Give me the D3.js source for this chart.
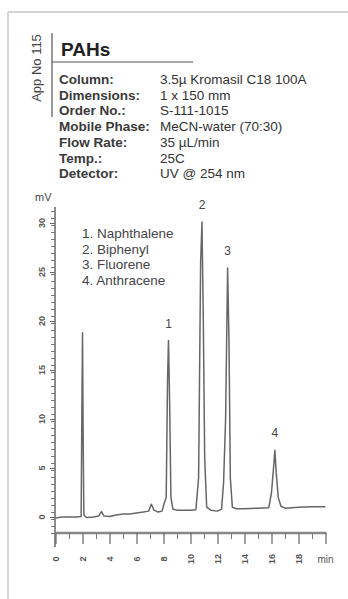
<!DOCTYPE html>
<html>
<head>
<meta charset="utf-8">
<script src="https://cdn.jsdelivr.net/npm/d3@7"></script>
<style>
  body { margin: 0; background: #fff; }
  svg { display: block; font-family: "Liberation Sans", Arial, sans-serif; }
</style>
</head>
<body>
<div id="chart"></div>
<script>
// header info
const appNo = "App No 115";
const title = "PAHs";
const infoLabels = ["Column:", "Dimensions:", "Order No.:", "Mobile Phase:", "Flow Rate:", "Temp.:", "Detector:"];
const infoValues = ["3.5\u00b5 Kromasil C18 100A", "1 x 150 mm", "S-111-1015", "MeCN-water (70:30)", "35 \u00b5L/min", "25C", "UV @ 254 nm"];

// peaks
const peakNames = ["1. Naphthalene", "2. Biphenyl", "3. Fluorene", "4. Anthracene"];
const peakTimes = [8.37, 10.85, 12.75, 16.25];
const peakHeights = [18.0, 30.1, 25.4, 6.8];

// axes
const xTicks = [0, 2, 4, 6, 8, 10, 12, 14, 16, 18];
const yTicks = [0, 5, 10, 15, 20, 25, 30];

// chromatogram trace (min, mV)
const traceTime = [0.0, 0.5, 1.0, 1.5, 1.9, 1.95, 2.0, 2.05, 2.1, 2.3, 2.8, 3.2, 3.4, 3.6, 4.0, 4.5, 5.0, 5.5, 6.0, 6.5,
  6.9, 7.1, 7.3, 7.6, 7.9, 8.05, 8.2, 8.3, 8.37, 8.45, 8.55, 8.7, 9.0, 10.0, 10.4, 10.6, 10.75, 10.85, 10.95, 11.05,
  11.2, 11.5, 12.0, 12.3, 12.45, 12.6, 12.75, 12.85, 12.95, 13.1, 13.4, 14.0, 15.0, 15.8, 16.0, 16.15, 16.25, 16.35, 16.5, 16.7,
  17.0, 18.0, 19.0, 20.0];
const traceMv = [-0.1, 0.0, 0.0, 0.0, 0.05, 10, 18.8, 8, 0.2, -0.05, 0.0, 0.1, 0.55, 0.1, 0.05, 0.2, 0.3, 0.3, 0.4, 0.5,
  0.6, 1.3, 0.7, 0.5, 0.6, 1.4, 2.0, 14, 18.0, 12, 2, 0.8, 0.7, 0.7, 0.75, 4, 26, 30.1, 20, 6,
  1, 0.7, 0.6, 0.8, 3.5, 10, 25.4, 18, 4, 1, 0.85, 0.85, 0.9, 0.95, 2.5, 5, 6.8, 4.5, 2, 1.1,
  0.9, 1.0, 1.05, 1.05];

const W = 348, H = 599;
const svg = d3.select("#chart").append("svg").attr("width", W).attr("height", H);

// page frame
svg.append("line").attr("x1", 8).attr("x2", W).attr("y1", 12).attr("y2", 12)
  .attr("stroke", "#d4d4d4").attr("stroke-width", 2);
svg.append("line").attr("x1", 8).attr("x2", 8).attr("y1", 12).attr("y2", H)
  .attr("stroke", "#d4d4d4").attr("stroke-width", 2);

// header
svg.append("text").attr("transform", "translate(41,68) rotate(-90)")
  .attr("text-anchor", "middle").attr("font-size", 13).attr("fill", "#444").text(appNo);
svg.append("line").attr("x1", 52).attr("x2", 52).attr("y1", 33).attr("y2", 117).attr("stroke", "#555").attr("stroke-width", 1.2);
svg.append("line").attr("x1", 52).attr("x2", 193).attr("y1", 62).attr("y2", 62).attr("stroke", "#555").attr("stroke-width", 1.2);
svg.append("text").attr("x", 61).attr("y", 56).attr("font-size", 19).attr("font-weight", "bold")
  .attr("fill", "#222").text(title);

const info = svg.append("g").attr("font-size", 13.5).attr("fill", "#333");
info.selectAll("text.lab").data(infoLabels).join("text").attr("class", "lab")
  .attr("x", 59).attr("y", (d, i) => 84 + i * 15.7).attr("font-weight", "bold").attr("fill", "#3a3a3a").text(d => d);
info.selectAll("text.val").data(infoValues).join("text").attr("class", "val")
  .attr("x", 160).attr("y", (d, i) => 84 + i * 15.7).text(d => d);

// scales
const x = d3.scaleLinear().domain([0, 20]).range([55.5, 325.5]);
const y = d3.scaleLinear().domain([0, 30]).range([517, 223]);
const xAxisY = 533;

// y axis
const yMinor = d3.range(y.invert(xAxisY), y.invert(208), 5 / 7);
const yAxisG = svg.append("g").attr("transform", "translate(55,0)");
yAxisG.append("line").attr("x1", 0).attr("x2", 0).attr("y1", 207).attr("y2", 547)
  .attr("stroke", "#666").attr("stroke-width", 1.5);
yAxisG.append("g").call(d3.axisLeft(y).tickValues(yMinor).tickSize(4).tickFormat(""))
  .call(g => g.select(".domain").remove())
  .call(g => g.selectAll("line").attr("stroke", "#777"));
yAxisG.append("g").call(d3.axisLeft(y).tickValues(yTicks).tickSize(5).tickFormat(""))
  .call(g => g.select(".domain").remove())
  .call(g => g.selectAll("line").attr("stroke", "#666"));
yAxisG.selectAll("text.ylab").data(yTicks).join("text").attr("class", "ylab")
  .attr("transform", d => `translate(-10,${y(d)}) rotate(-90)`)
  .attr("text-anchor", "middle").attr("font-size", 9).attr("font-weight", "bold").attr("fill", "#555").text(d => d);
svg.append("text").attr("x", 35).attr("y", 201).attr("font-size", 11).attr("fill", "#444").text("mV");

// x axis
const xAxisG = svg.append("g").attr("transform", `translate(0,${xAxisY})`);
xAxisG.append("line").attr("x1", x(0)).attr("x2", x(20) + 1).attr("y1", 0).attr("y2", 0)
  .attr("stroke", "#888").attr("stroke-width", 2.5);
xAxisG.append("g").call(d3.axisBottom(x).tickValues(d3.range(1, 20, 2)).tickSize(6).tickFormat(""))
  .call(g => g.select(".domain").remove())
  .call(g => g.selectAll("line").attr("stroke", "#777"));
xAxisG.append("g").call(d3.axisBottom(x).tickValues(xTicks.concat([20])).tickSize(11).tickFormat(""))
  .call(g => g.select(".domain").remove())
  .call(g => g.selectAll("line").attr("stroke", "#666").attr("stroke-width", 1.2));
xAxisG.selectAll("text.xlab").data(xTicks).join("text").attr("class", "xlab")
  .attr("transform", d => `translate(${x(d) + 3},26) rotate(-90)`)
  .attr("text-anchor", "middle").attr("font-size", 9).attr("font-weight", "bold").attr("fill", "#555").text(d => d);
svg.append("text").attr("x", x(20)).attr("y", 563).attr("text-anchor", "middle")
  .attr("font-size", 10).attr("fill", "#555").text("min");

// trace
const trace = traceTime.map((t, i) => [t, traceMv[i]]);
const line = d3.line().x(d => x(d[0])).y(d => y(d[1]));
svg.append("path").datum(trace).attr("d", line).attr("fill", "none")
  .attr("stroke", "#666").attr("stroke-width", 1.5).attr("stroke-linejoin", "round");

// peak numbers
svg.selectAll("text.pk").data(peakTimes).join("text").attr("class", "pk")
  .attr("x", d => x(d)).attr("y", (d, i) => y(peakHeights[i]) - 13)
  .attr("text-anchor", "middle").attr("font-size", 12).attr("fill", "#444").text((d, i) => String(i + 1));

// legend
svg.append("g").attr("font-size", 13.5).attr("fill", "#444")
  .selectAll("text").data(peakNames).join("text")
  .attr("x", 82).attr("y", (d, i) => 238 + i * 15.5).text(d => d);
</script>
</body>
</html>
